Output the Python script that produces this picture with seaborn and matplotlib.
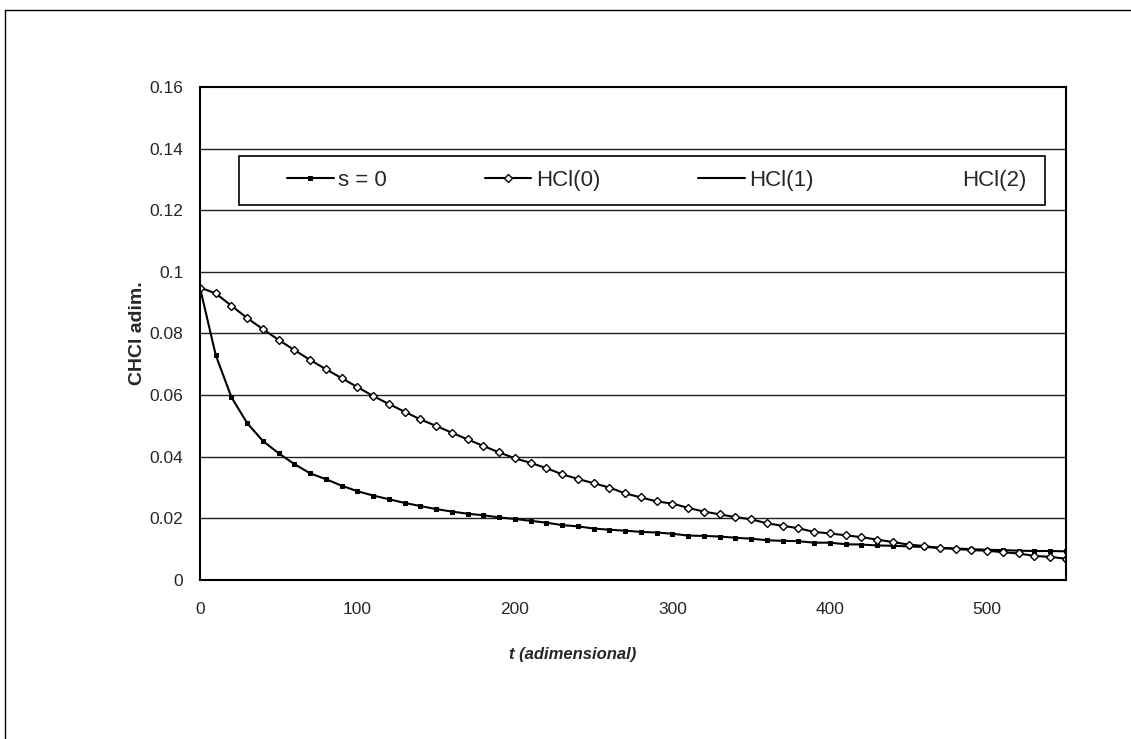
import matplotlib
matplotlib.use("Agg")
import matplotlib.pyplot as plt
from matplotlib.lines import Line2D
from matplotlib.patches import Rectangle
import pandas as pd
import seaborn as sns

# t (adimensional), one point every 10 units
t = list(range(0, 560, 10))

# s = 0 (lower curve)
c_s0 = [0.0949, 0.0730, 0.0593, 0.0509, 0.0451, 0.0411, 0.0376, 0.0346, 0.0327, 0.0306,
        0.0288, 0.0274, 0.0262, 0.0250, 0.0240, 0.0230, 0.0222, 0.0215, 0.0210, 0.0203,
        0.0198, 0.0192, 0.0186, 0.0178, 0.0174, 0.0167, 0.0163, 0.0160, 0.0156, 0.0154,
        0.0150, 0.0144, 0.0143, 0.0141, 0.0137, 0.0134, 0.0129, 0.0127, 0.0126, 0.0121,
        0.0121, 0.0116, 0.0115, 0.0112, 0.0111, 0.0109, 0.0107, 0.0104, 0.0102, 0.0100,
        0.0098, 0.0097, 0.0095, 0.0094, 0.0094, 0.0093]

# HCl(0) (upper curve)
c_hcl0 = [0.0949, 0.0930, 0.0890, 0.0850, 0.0814, 0.0779, 0.0746, 0.0714, 0.0684, 0.0655,
          0.0626, 0.0597, 0.0571, 0.0546, 0.0521, 0.0500, 0.0478, 0.0456, 0.0435, 0.0414,
          0.0395, 0.0380, 0.0363, 0.0343, 0.0328, 0.0314, 0.0300, 0.0281, 0.0268, 0.0255,
          0.0248, 0.0234, 0.0222, 0.0213, 0.0204, 0.0197, 0.0184, 0.0176, 0.0168, 0.0156,
          0.0151, 0.0145, 0.0139, 0.0131, 0.0123, 0.0115, 0.0110, 0.0104, 0.0101, 0.0097,
          0.0095, 0.0090, 0.0086, 0.0078, 0.0075, 0.0069]

series = ["s = 0", "HCl(0)"]
legend_names = ["s = 0", "HCl(0)", "HCl(1)", "HCl(2)"]
yticks = [0, 0.02, 0.04, 0.06, 0.08, 0.1, 0.12, 0.14, 0.16]
ytick_labels = ["0", "0.02", "0.04", "0.06", "0.08", "0.1", "0.12", "0.14", "0.16"]
xticks = [0, 100, 200, 300, 400, 500]

df = pd.DataFrame({
    "t": t + t,
    "C": c_s0 + c_hcl0,
    "serie": [series[0]] * len(t) + [series[1]] * len(t),
})

sns.set_style("white")
plt.rcParams['font.family'] = ['Liberation Sans', 'DejaVu Sans']

fig = plt.figure(figsize=(11.31, 7.39), dpi=100)
ax = fig.add_axes([0.1768, 0.2152, 0.7657, 0.6671])

sns.lineplot(data=df, x="t", y="C", hue="serie", style="serie", hue_order=series,
             style_order=series, markers={"s = 0": "s", "HCl(0)": "D"}, dashes=False,
             palette={"s = 0": "black", "HCl(0)": "black"}, linewidth=1.5,
             markersize=4, legend=False, ax=ax)

l_s0, l_h0 = ax.lines[0], ax.lines[1]
l_s0.set_markerfacecolor("black")
l_s0.set_markeredgecolor("black")
l_s0.set_markersize(3.5)
l_h0.set_markerfacecolor("white")
l_h0.set_markeredgecolor("black")
l_h0.set_markeredgewidth(1.0)

ax.set_xlim(0, 550)
ax.set_ylim(0, 0.16)
ax.set_xticks(xticks)
ax.set_yticks(yticks)
ax.set_yticklabels(ytick_labels)
ax.tick_params(axis="both", direction="inout", length=8, width=1.2, labelsize=12.5, color="black")
ax.tick_params(axis="y", pad=8)
ax.tick_params(axis="x", pad=12)

for y in yticks[1:-1]:
    ax.axhline(y, color="#222222", lw=1.0, zorder=0)

for s in ax.spines.values():
    s.set_color("black")
    s.set_linewidth(1.5)

ax.set_xlabel("t (adimensional)", fontsize=12, fontweight="bold", fontstyle="italic")
ax.xaxis.set_label_coords(0.43, -0.135)
ax.set_ylabel("CHCl adim.", fontsize=14, fontweight="bold")
ax.yaxis.set_label_coords(-0.062, 0.5)

# legend box
ax.add_patch(Rectangle((0.045, 0.7606), 0.9307, 0.0994, transform=ax.transAxes,
                       facecolor="white", edgecolor="black", lw=1.2, zorder=4))

h1 = Line2D([], [], color="black", lw=1.5)
h2 = Line2D([], [], color="none", lw=1.5)
leg = ax.legend([l_s0, l_h0, h1, h2], legend_names, loc="center left",
                bbox_to_anchor=(0.1005, 0.810), ncol=4, fontsize=16, frameon=False,
                handlelength=2.1, handletextpad=0.2, columnspacing=4.4,
                borderpad=0, borderaxespad=0)
leg.set_zorder(5)

# outer chart border (top and left visible)
fig.add_artist(Line2D([0.0044, 1.0], [0.9865, 0.9865], transform=fig.transFigure, color="black", lw=1))
fig.add_artist(Line2D([0.0044, 0.0044], [0.0, 0.9865], transform=fig.transFigure, color="black", lw=1))

fig.savefig("out.png", dpi=100)
